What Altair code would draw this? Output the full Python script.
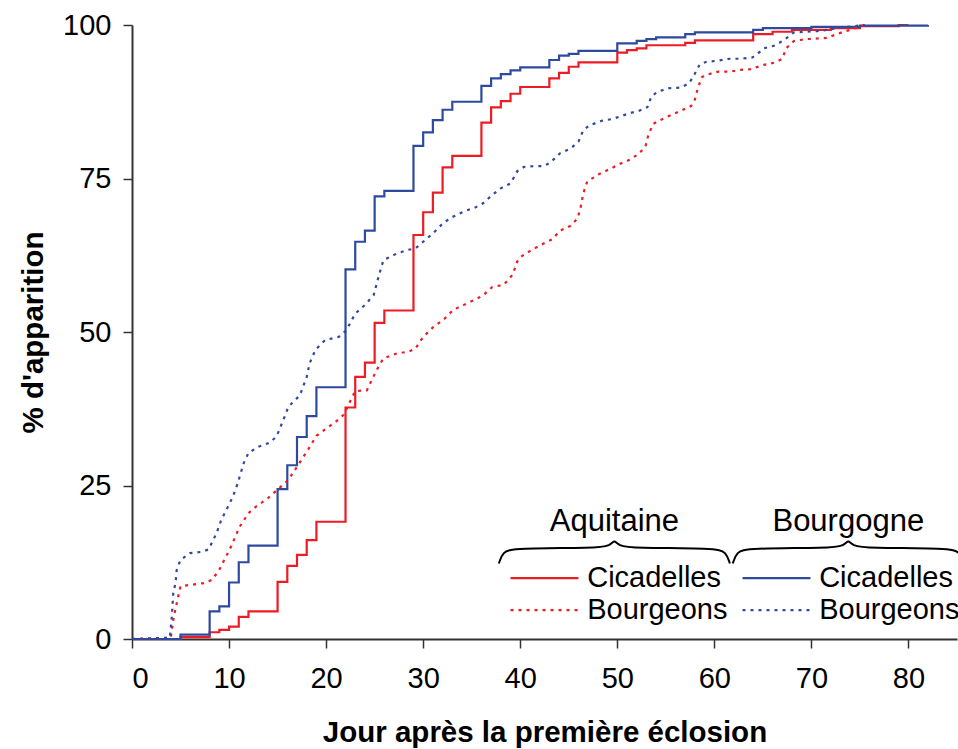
import altair as alt
import pandas as pd

# ---------------- data ----------------
# Aquitaine - Cicadelles (step curve: value reached on that day)
aq_cic_day = [0, 5, 8, 9, 10, 11, 12, 15, 16, 17, 18, 19, 22, 23, 24, 25, 26, 29, 30, 31, 32, 33,
              36, 37, 38, 39, 40, 43, 44, 45, 46, 50, 51, 52, 53, 57, 58, 64, 66, 68, 72, 75, 79, 80]
aq_cic_pct = [0, 0.3, 1.1, 1.5, 2.0, 3.6, 4.5, 9.3, 11.9, 13.7, 16.1, 19.1, 37.7, 42.7, 45.0, 51.5, 53.5,
              65.8, 69.5, 72.7, 76.8, 78.7, 84.1, 86.6, 87.6, 88.8, 89.9, 91.3, 92.2, 93.2, 93.9, 95.5,
              95.9, 96.2, 96.7, 97.1, 97.5, 98.5, 98.9, 99.2, 99.5, 99.8, 100, 100]

# Bourgogne - Cicadelles
bo_cic_day = [0, 5, 8, 9, 10, 11, 12, 15, 16, 17, 18, 19, 22, 23, 24, 25, 26, 29, 30, 31, 32, 33,
              36, 37, 38, 39, 40, 43, 44, 45, 46, 50, 52, 53, 54, 57, 58, 64, 65, 70, 75, 82]
bo_cic_pct = [0, 0.7, 4.5, 5.3, 9.2, 12.5, 15.2, 24.4, 28.3, 32.9, 36.3, 41.0, 60.2, 64.7, 66.5, 72.1,
              73.0, 80.3, 82.5, 84.5, 86.2, 87.5, 90.1, 91.3, 92.0, 92.6, 93.1, 94.3, 95.0, 95.3, 95.8,
              97.0, 97.4, 97.7, 98.0, 98.5, 98.8, 99.2, 99.5, 99.7, 99.9, 100]

# Aquitaine - Bourgeons
aq_bou_day = [0, 4.0, 4.3, 5.0, 7.4, 8.2, 8.9, 10.1, 11.1, 12.0, 12.8, 13.9, 14.9, 16.1, 17.1, 18.2,
              19.0, 21.0, 21.8, 23.0, 24.2, 25.2, 25.9, 27.3, 28.5, 29.2, 30.0, 31.1, 32.1, 33.1, 34.3,
              35.4, 36.2, 37.1, 38.3, 39.2, 39.7, 40.2, 41.2, 42.4, 43.3, 44.1, 45.2, 45.9, 46.2, 46.5,
              46.9, 48.1, 49.3, 50.3, 51.2, 52.2, 52.9, 53.2, 53.7, 54.4, 55.5, 56.5, 57.6, 58.0, 58.3,
              58.7, 59.2, 60.4, 61.6, 62.7, 63.9, 64.3, 65.1, 66.3, 67.0, 67.4, 68.2, 69.4, 70.6, 71.6,
              72.1, 73.3, 74.2, 75.0, 75.5]
aq_bou_pct = [0, 0.2, 3.6, 8.6, 9.1, 9.6, 11.0, 14.7, 18.3, 20.5, 21.6, 22.8, 24.2, 25.9, 28.3, 31.0,
              33.1, 35.4, 36.5, 40.4, 40.5, 43.8, 45.7, 46.5, 46.8, 47.3, 49.2, 50.9, 52.0, 53.6, 54.5,
              55.3, 56.0, 57.3, 57.7, 59.3, 61.5, 62.4, 63.4, 64.4, 65.1, 66.5, 67.3, 68.5, 70.1, 72.6,
              74.5, 75.7, 76.6, 77.4, 78.0, 79.0, 80.2, 82.1, 83.9, 84.5, 85.3, 86.0, 86.8, 87.9, 89.7,
              91.5, 91.9, 92.4, 92.4, 92.7, 92.8, 93.1, 93.5, 93.9, 94.5, 96.2, 97.4, 97.7, 97.8, 97.9,
              98.2, 98.9, 99.3, 99.8, 100]

# Bourgogne - Bourgeons
bo_bou_day = [0, 3.9, 4.1, 4.25, 4.5, 4.6, 5.0, 6.0, 7.2, 7.9, 8.7, 9.2, 9.9, 10.4, 10.9, 11.5, 12.0,
              13.0, 14.2, 14.9, 15.8, 16.1, 17.3, 18.0, 18.3, 18.9, 19.9, 21.3, 22.1, 23.0, 24.0, 24.9,
              25.4, 25.9, 27.3, 28.5, 29.2, 30.0, 31.1, 32.1, 33.1, 34.3, 35.4, 36.2, 37.1, 38.0, 39.0,
              39.7, 40.4, 41.4, 42.4, 43.1, 44.1, 45.2, 46.0, 46.5, 47.2, 48.4, 49.5, 50.3, 51.2, 52.2,
              53.1, 53.5, 54.1, 55.3, 56.5, 57.4, 58.0, 58.5, 59.2, 60.4, 61.6, 62.7, 63.9, 64.3, 65.1,
              66.3, 67.0, 67.3, 68.2, 69.4, 70.6, 71.6, 72.6, 74.3, 75.5]
bo_bou_pct = [0, 0.2, 3.6, 7.4, 9.3, 11.2, 12.9, 14.0, 14.2, 14.6, 17.2, 19.4, 21.6, 23.2, 25.4, 28.6,
              30.3, 31.3, 32.0, 33.0, 36.5, 37.8, 39.7, 42.7, 44.9, 47.1, 48.7, 49.2, 50.3, 53.0, 54.4,
              56.0, 59.0, 61.7, 62.8, 63.4, 63.6, 64.7, 66.2, 67.8, 68.8, 69.7, 70.3, 71.0, 72.3, 73.4,
              74.2, 76.2, 76.9, 77.0, 77.0, 77.6, 79.1, 79.9, 81.0, 82.9, 83.7, 84.4, 84.7, 85.1, 85.6,
              86.0, 86.6, 88.3, 89.1, 89.7, 89.8, 90.5, 92.1, 93.6, 94.0, 94.2, 94.5, 94.5, 94.7, 95.1,
              96.2, 96.7, 97.4, 97.7, 98.8, 98.9, 99.0, 99.2, 99.5, 99.8, 100]

x_ticks = [0, 10, 20, 30, 40, 50, 60, 70, 80]
y_ticks = [0, 25, 50, 75, 100]

regions = ["Aquitaine", "Bourgogne"]
kinds = ["Cicadelles", "Bourgeons"]

# legend layout (in data units of the chart)
brace_shape_dx = [0.0, 0.4, 1.5, 10.0, 11.5, 11.9, 12.3, 13.8, 22.3, 23.4, 23.8]
brace_shape_dy = [-2.5, -0.6, 0.0, 0.0, 0.4, 1.4, 0.4, 0.0, 0.0, -0.6, -2.5]

RED = "#ED1C24"
BLUE = "#2E4A9F"
FONT = "Liberation Sans"


def frame(day, pct, series):
    return pd.DataFrame({"day": day, "pct": pct, "series": series})


steps = pd.concat([frame(aq_cic_day, aq_cic_pct, "Aquitaine Cicadelles"),
                   frame(bo_cic_day, bo_cic_pct, "Bourgogne Cicadelles")])
buds = pd.concat([frame(aq_bou_day, aq_bou_pct, "Aquitaine Bourgeons"),
                  frame(bo_bou_day, bo_bou_pct, "Bourgogne Bourgeons")])

color_scale = alt.Scale(
    domain=["Aquitaine Cicadelles", "Bourgogne Cicadelles", "Aquitaine Bourgeons", "Bourgogne Bourgeons"],
    range=[RED, BLUE, RED, BLUE])

xs = alt.Scale(domain=[0, 85], nice=False, zero=False)
ys = alt.Scale(domain=[0, 100], nice=False)

x_enc = alt.X("day:Q", scale=xs, title="Jour après la première éclosion",
              axis=alt.Axis(values=x_ticks, format="d"))
y_enc = alt.Y("pct:Q", scale=ys, title="% d'apparition",
              axis=alt.Axis(values=y_ticks, format="d"))

step_lines = alt.Chart(steps).mark_line(interpolate="step-after", strokeWidth=2.2).encode(
    x=x_enc, y=y_enc,
    color=alt.Color("series:N", scale=color_scale, legend=None),
    detail="series:N")

bud_lines = alt.Chart(buds).mark_line(strokeWidth=2.2, strokeDash=[3, 5]).encode(
    x=x_enc, y=y_enc,
    color=alt.Color("series:N", scale=color_scale, legend=None),
    detail="series:N")

# ---- custom grouped legend ----
brace_left = [37.8, 61.9]
header_y = 19.0
rows = []
for reg, x0 in zip(regions, brace_left):
    for dx, dy in zip(brace_shape_dx, brace_shape_dy):
        rows.append({"region": reg, "day": x0 + dx, "pct": 12.3 + 2.5 + dy})
brace_df = pd.DataFrame(rows)
braces = alt.Chart(brace_df).mark_line(interpolate="basis", color="black", strokeWidth=2).encode(
    x=alt.X("day:Q", scale=xs), y=alt.Y("pct:Q", scale=ys), detail="region:N")

head_df = pd.DataFrame({"region": regions,
                        "day": [x0 + 11.9 for x0 in brace_left],
                        "pct": [header_y, header_y]})
heads = alt.Chart(head_df).mark_text(font=FONT, fontSize=31, color="black", baseline="middle").encode(
    x=alt.X("day:Q", scale=xs), y=alt.Y("pct:Q", scale=ys), text="region:N")

leg_rows = []
for reg, x0 in zip(regions, [39.0, 62.9]):
    for kind, yv in zip(kinds, [9.9, 4.7]):
        leg_rows.append({"series": reg + " " + kind, "kind": kind, "x1": x0, "x2": x0 + 7.0,
                         "xt": x0 + 7.9, "pct": yv})
leg_df = pd.DataFrame(leg_rows)

leg_solid = alt.Chart(leg_df).transform_filter(alt.datum.kind == "Cicadelles").mark_rule(strokeWidth=2.2).encode(
    x=alt.X("x1:Q", scale=xs), x2="x2:Q", y=alt.Y("pct:Q", scale=ys),
    color=alt.Color("series:N", scale=color_scale, legend=None))
leg_dash = alt.Chart(leg_df).transform_filter(alt.datum.kind == "Bourgeons").mark_rule(
    strokeWidth=2.2, strokeDash=[3, 5]).encode(
    x=alt.X("x1:Q", scale=xs), x2="x2:Q", y=alt.Y("pct:Q", scale=ys),
    color=alt.Color("series:N", scale=color_scale, legend=None))
leg_text = alt.Chart(leg_df).mark_text(font=FONT, fontSize=29, color="black", align="left",
                                       baseline="middle").encode(
    x=alt.X("xt:Q", scale=xs), y=alt.Y("pct:Q", scale=ys), text="kind:N")

chart = alt.layer(step_lines, bud_lines, braces, heads, leg_solid, leg_dash, leg_text).properties(
    width=825, height=614,
    padding={"left": 132, "top": 25, "right": 1, "bottom": 110},
    autosize=alt.AutoSizeParams(type="none"),
    background="white",
).configure_view(stroke=None).configure_axis(
    grid=False,
    domainColor="#333333", domainWidth=2,
    tickColor="#333333", tickWidth=1.5, tickSize=9,
    labelFont=FONT, labelFontSize=29, labelColor="black",
    titleFont=FONT, titleFontSize=29.5, titleFontWeight="bold", titleColor="black",
).configure_axisX(labelPadding=16, titlePadding=25).configure_axisY(labelPadding=12, titlePadding=14)

chart.save("out.html", embed_options={"renderer": "svg", "actions": False})
